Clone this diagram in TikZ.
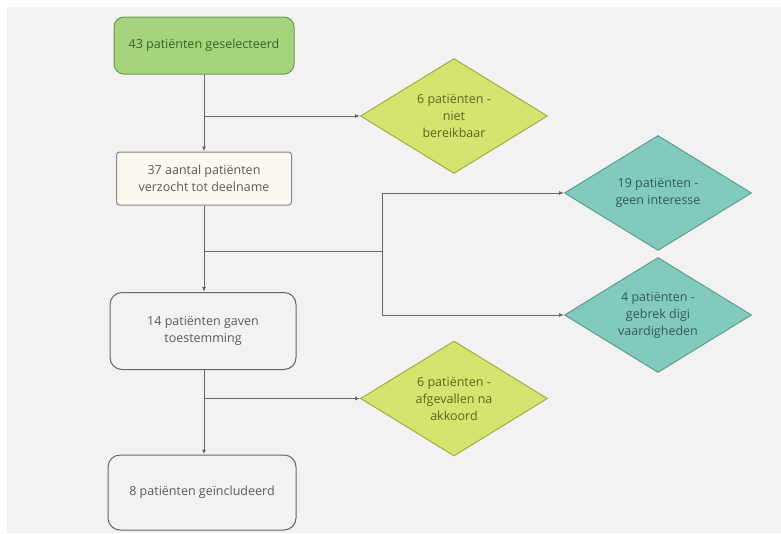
\documentclass[tikz,border=0pt]{standalone}
\usepackage{fontspec}
\setmainfont{Open Sans}
\usetikzlibrary{shapes.geometric,arrows.meta}
\definecolor{bggrey}{HTML}{F2F2F2}
\definecolor{gfill}{HTML}{A5D47D}
\definecolor{gdraw}{HTML}{6E9B4C}
\definecolor{gtext}{HTML}{3E5E28}
\definecolor{yfill}{HTML}{D6E36E}
\definecolor{ydraw}{HTML}{9DB043}
\definecolor{ytext}{HTML}{58681F}
\definecolor{tfill}{HTML}{82CBBC}
\definecolor{tdraw}{HTML}{5E9C8E}
\definecolor{ttext}{HTML}{2E5C55}
\definecolor{cream}{HTML}{FBF9EF}
\definecolor{lgrey}{HTML}{666666}
\definecolor{btext}{HTML}{5A5A5A}
\begin{document}
\begin{tikzpicture}[x=1pt,y=-1pt,
  every node/.style={font=\fontsize{12.5}{17}\selectfont, align=center, inner sep=0pt},
  boxbase/.style={rectangle, draw=lgrey, line width=1pt, text=btext},
  dia/.style={diamond, aspect=1.63, minimum width=187pt, minimum height=115pt, line width=1pt},
  ydia/.style={dia, fill=yfill, draw=ydraw, text=ytext},
  tdia/.style={dia, fill=tfill, draw=tdraw, text=ttext},
  conn/.style={draw=lgrey, line width=1pt},
  arr/.style={conn, -{Latex[length=5pt,width=4pt]}}
]
\useasboundingbox (0,0) rectangle (781,533);
\fill[white] (0,0) rectangle (781,533);
\fill[bggrey] (7,7) rectangle (781,533);

\node[boxbase, fill=gfill, draw=gdraw, text=gtext, rounded corners=10pt,
      minimum width=180pt, minimum height=57pt] (b1) at (204,45.5) {43 patiënten geselecteerd};
\node[boxbase, fill=cream, draw=lgrey!80, rounded corners=3pt,
      minimum width=175pt, minimum height=53pt] (b2) at (204,178.5) {37 aantal patiënten\\verzocht tot deelname};
\node[boxbase, rounded corners=12pt,
      minimum width=186pt, minimum height=77pt] (b3) at (203,331) {14 patiënten gaven\\toestemming};
\node[boxbase, rounded corners=12pt,
      minimum width=188pt, minimum height=75pt] (b4) at (202,492.5) {8 patiënten geïncludeerd};

\node[ydia] (d1) at (454,116) {6 patiënten -\\niet\\bereikbaar};
\node[tdia] (d2) at (658,193) {19 patiënten -\\geen interesse};
\node[tdia] (d3) at (658,315) {4 patiënten -\\gebrek digi\\vaardigheden};
\node[ydia] (d4) at (454,398.5) {6 patiënten -\\afgevallen na\\akkoord};

\coordinate (j1) at (204,116);
\coordinate (j2) at (204,251);
\coordinate (j3) at (382,251);
\coordinate (j4) at (204,398.5);

\draw[arr] (b1.south) -- (b2.north);
\draw[arr] (j1) -- (d1.west);
\draw[arr] (b2.south) -- (b2.south |- b3.north);
\draw[conn] (j2) -- (j3);
\draw[arr] (j3) |- (d2.west);
\draw[arr] (j3) |- (d3.west);
\draw[arr] (b3.south -| j4) -- (j4 |- b4.north);
\draw[arr] (j4) -- (d4.west);
\end{tikzpicture}
\end{document}
